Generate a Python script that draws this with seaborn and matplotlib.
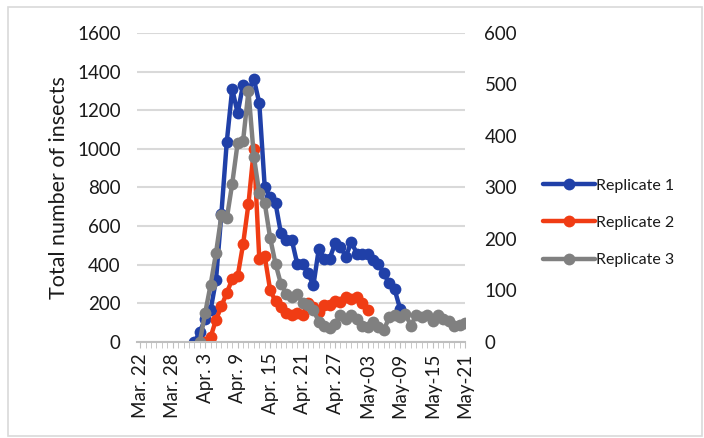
import pandas as pd
import numpy as np
import matplotlib
matplotlib.use("Agg")
import matplotlib.pyplot as plt
import seaborn as sns
from matplotlib.patches import Rectangle

# Data (daily counts)
rep1_start = "2020-04-01"
rep1 = [0, 50, 120, 165, 320, 665, 1038, 1310, 1185, 1332, 1305, 1361, 1237, 804, 752,
        718, 562, 528, 528, 406, 406, 355, 294, 484, 432, 432, 510, 493, 441, 519,
        458, 458, 458, 424, 406, 355, 303, 272, 173]
rep2_start = "2020-04-03"
rep2 = [0, 25, 115, 185, 255, 325, 340, 505, 715, 1000, 430, 445, 270, 210, 180,
        150, 140, 150, 140, 200, 180, 155, 190, 190, 210, 205, 235, 225, 235, 200, 165]
rep3_start = "2020-04-02"
rep3 = [0, 150, 295, 460, 655, 640, 820, 1030, 1040, 1300, 960, 770, 720, 540, 405,
        300, 250, 235, 250, 200, 190, 165, 105, 85, 70, 95, 140, 120, 140, 120,
        85, 80, 105, 80, 60, 130, 140, 130, 145, 85, 140, 130, 140, 110, 140,
        120, 110, 85, 90, 100]

series_names = ["Replicate 1", "Replicate 2", "Replicate 3"]
colors = ["#2040a8", "#f03c14", "#808080"]
tick_labels = ["Mar. 22", "Mar. 28", "Apr. 3", "Apr. 9", "Apr. 15", "Apr. 21",
               "Apr. 27", "May-03", "May-09", "May-15", "May-21"]

frames = []
for name, start, vals in zip(series_names, [rep1_start, rep2_start, rep3_start], [rep1, rep2, rep3]):
    frames.append(pd.DataFrame({"date": pd.date_range(start, periods=len(vals), freq="D"),
                                "count": vals, "replicate": name}))
df = pd.concat(frames, ignore_index=True)

sns.set_style("white")
plt.rcParams["font.family"] = ["Lato", "DejaVu Sans"]
text_col = "#1a1a1a"

fig = plt.figure(figsize=(7.04, 4.38), dpi=100)
ax = fig.add_axes([0.1953, 0.2192, 0.4652, 0.7055])

sns.lineplot(data=df, x="date", y="count", hue="replicate", palette=colors,
             marker="o", markersize=8.5, markeredgewidth=0, linewidth=3.2, ax=ax)

ax.set_ylim(0, 1600)
ax.set_yticks(range(0, 1601, 200))
ax.set_xlim(pd.Timestamp("2020-03-21 12:00"), pd.Timestamp("2020-05-21"))
ax.set_xticks(pd.date_range("2020-03-22", "2020-05-21", freq="6D"))
ax.set_xticklabels(tick_labels, rotation=90)
ax.set_xticks(pd.date_range("2020-03-22", "2020-05-21", freq="D"), minor=True)
ax.grid(axis="y", color="#d9d9d9", linewidth=1.5)
ax.set_axisbelow(True)
for s in ["top", "left", "right"]:
    ax.spines[s].set_visible(False)
ax.spines["bottom"].set_color("#bfbfbf")
ax.spines["bottom"].set_linewidth(1.5)
ax.tick_params(axis="x", which="both", direction="out", length=4, color="#bfbfbf",
               labelsize=13.5, labelcolor=text_col, pad=4, bottom=True)
ax.tick_params(axis="y", length=0, labelsize=13.5, labelcolor=text_col, pad=12)
ax.set_xlabel("")
ax.set_ylabel("Total number of insects", fontsize=15.5, color=text_col, labelpad=6)

ax2 = ax.twinx()
ax2.set_ylim(0, 600)
ax2.set_yticks(range(0, 601, 100))
for s in ax2.spines.values():
    s.set_visible(False)
ax2.tick_params(axis="y", length=0, labelsize=13.5, labelcolor=text_col, pad=14)

handles, labels = ax.get_legend_handles_labels()
ax.get_legend().remove()
fig.legend(handles, labels, loc="center left", bbox_to_anchor=(0.772, 0.491),
           frameon=False, fontsize=11.5, handlelength=3.2, handletextpad=0.1,
           labelspacing=1.45, borderpad=0, borderaxespad=0, labelcolor=text_col)

fig.patches.append(Rectangle((0.012, 0.004), 0.985, 0.98, transform=fig.transFigure,
                             fill=False, edgecolor="#d9d9d9", linewidth=1.2))

fig.savefig("out.png", dpi=100)
